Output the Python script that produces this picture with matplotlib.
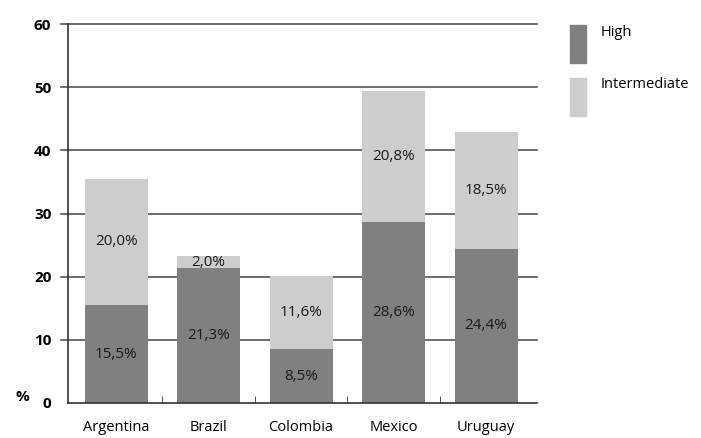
import matplotlib
matplotlib.use("Agg")
import matplotlib.pyplot as plt
from matplotlib.patches import Rectangle
import numpy as np

plt.rcParams['font.family'] = ['Open Sans', 'DejaVu Sans']

countries = ["Argentina", "Brazil", "Colombia", "Mexico", "Uruguay"]
high = [15.5, 21.3, 8.5, 28.6, 24.4]
intermediate = [20.0, 2.0, 11.6, 20.8, 18.5]
yticks = [0, 10, 20, 30, 40, 50, 60]

dark = '#808080'
light = '#cdcdcd'

fig = plt.figure(figsize=(7.01, 4.38), dpi=100)
ax = fig.add_axes([68 / 701, 35 / 438, 469 / 701, 379 / 438])

x = np.arange(len(countries))
w = 0.68
ax.bar(x, high, w, color=dark, zorder=2)
ax.bar(x, intermediate, w, bottom=high, color=light, zorder=2)

def pct(v):
    return f"{v:.1f}%".replace(".", ",")

for i in range(len(countries)):
    ax.text(x[i], high[i] / 2, pct(high[i]), ha='center', va='center',
            fontsize=11, color='#1a1a1a', zorder=3)
    ax.text(x[i], high[i] + intermediate[i] / 2, pct(intermediate[i]),
            ha='center', va='center', fontsize=11, color='#1a1a1a', zorder=3)

ax.set_xlim(-0.52, 4.55)
ax.set_ylim(0, 60)
ax.set_yticks(yticks)
ax.set_yticklabels([str(t) for t in yticks], fontsize=11, fontweight='bold')
for t in yticks[1:]:
    ax.axhline(t, color='#555555', lw=1.2, zorder=1, xmin=-0.015, clip_on=False)

ax.set_xticks(x)
ax.set_xticklabels(countries, fontsize=10.5)
ax.tick_params(axis='x', length=0, pad=12)
ax.set_xticks(x[:-1] + 0.5, minor=True)
ax.tick_params(axis='x', which='minor', direction='in', length=5, color='#333333')
ax.tick_params(axis='y', length=0, pad=12)

for s in ['top', 'right']:
    ax.spines[s].set_visible(False)
ax.spines['left'].set_color('#333333')
ax.spines['bottom'].set_color('#333333')
ax.spines['left'].set_linewidth(1.2)
ax.spines['bottom'].set_linewidth(1.2)

fig.text(15 / 701, 1 - 397 / 438, "%", fontsize=11, fontweight='bold',
         ha='left', va='center')

# legend
fig.patches.append(Rectangle((570 / 701, 1 - 63 / 438), 16 / 701, 38 / 438,
                             transform=fig.transFigure, color=dark))
fig.patches.append(Rectangle((570 / 701, 1 - 116 / 438), 16 / 701, 38 / 438,
                             transform=fig.transFigure, color=light))
fig.text(601 / 701, 1 - 32 / 438, "High", fontsize=10.5, va='center')
fig.text(601 / 701, 1 - 85 / 438, "Intermediate", fontsize=10.5, va='center')

fig.savefig("out.png", dpi=100)
